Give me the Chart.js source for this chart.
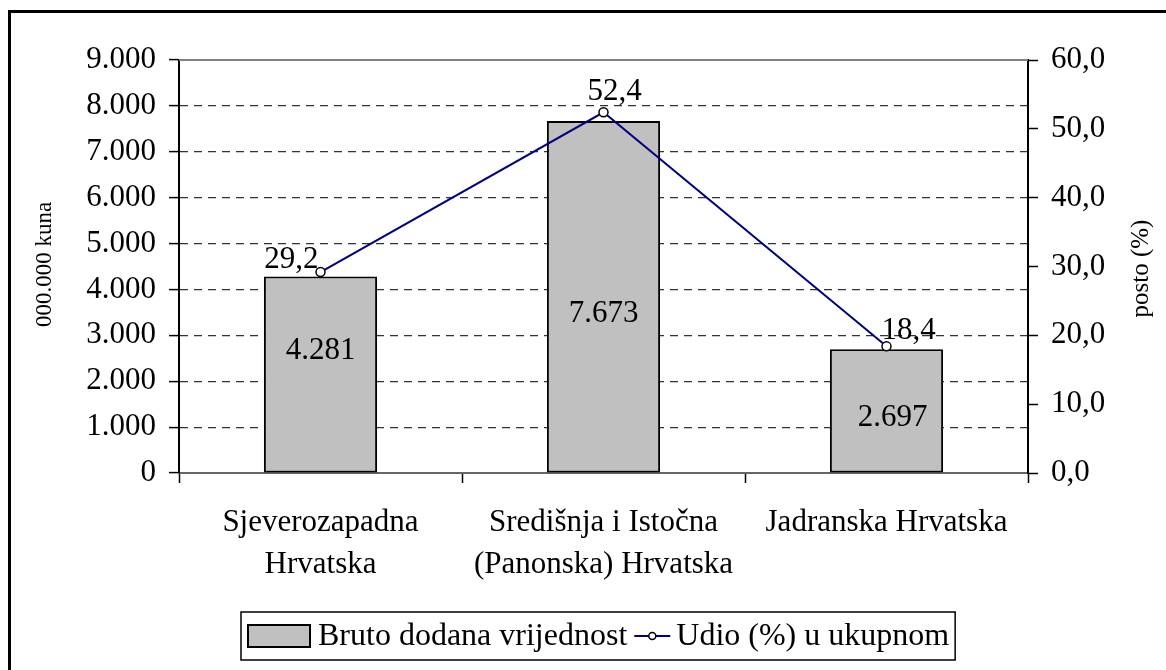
<!DOCTYPE html>
<html>
<head>
<meta charset="utf-8">
<script src="https://cdn.jsdelivr.net/npm/chart.js@4/dist/chart.umd.min.js"></script>
<style>
  html, body { margin: 0; padding: 0; background: #fff; }
  #wrap { width: 1166px; height: 670px; }
</style>
</head>
<body>
<div id="wrap"><canvas id="chartCanvas" width="1166" height="670"></canvas></div>
<script>
// podaci
const categories = [
    ['Sjeverozapadna', 'Hrvatska'],
    ['Središnja i Istočna', '(Panonska) Hrvatska'],
    ['Jadranska Hrvatska']
];
const bdvValues = [4281, 7673, 2697];       // 000.000 kuna
const udioValues = [29.2, 52.4, 18.4];      // posto (%)
const seriesNames = ['Bruto dodana vrijednost', 'Udio (%) u ukupnom'];
const leftAxisTitle = '000.000 kuna';
const rightAxisTitle = 'posto (%)';

// pomak oznaka (samo stil)
const barLabelShift = [[0, -24], [0, 17], [6, 7]];
const lineLabelStyle = [
    { dx: -2, dy: -4, align: 'right' },
    { dx: 11, dy: -12, align: 'center' },
    { dx: -5, dy: -7, align: 'left' }
];

const FONT = "'Liberation Serif', 'Times New Roman', serif";
const BAR_COLOR = '#c0c0c0';
const LINE_COLOR = '#000080';

function fmtThousands(v) {
    return String(Math.round(v)).replace(/\B(?=(\d{3})+(?!\d))/g, '.');
}
function fmtDecimal(v) {
    return v.toFixed(1).replace('.', ',');
}

// oznake, naslovi osi, legenda i okvir
const extrasPlugin = {
    id: 'extras',
    afterDatasetsDraw(chart) {
        const ctx = chart.ctx;
        const area = chart.chartArea;
        ctx.save();
        // gornja linija okvira
        ctx.strokeStyle = '#808080';
        ctx.lineWidth = 2;
        ctx.beginPath();
        ctx.moveTo(area.left, area.top);
        ctx.lineTo(area.right, area.top);
        ctx.stroke();

        ctx.fillStyle = '#000';
        ctx.font = '31px ' + FONT;
        const bars = chart.getDatasetMeta(0).data;
        bars.forEach((el, i) => {
            ctx.textAlign = 'center';
            ctx.textBaseline = 'middle';
            const cy = (el.y + el.base) / 2;
            ctx.fillText(fmtThousands(bdvValues[i]), el.x + barLabelShift[i][0], cy + barLabelShift[i][1]);
        });
        const pts = chart.getDatasetMeta(1).data;
        pts.forEach((el, i) => {
            const s = lineLabelStyle[i];
            ctx.textAlign = s.align;
            ctx.textBaseline = 'alphabetic';
            ctx.fillText(fmtDecimal(udioValues[i]), el.x + s.dx, el.y + s.dy);
        });
        ctx.restore();
    },
    afterDraw(chart) {
        const ctx = chart.ctx;
        const area = chart.chartArea;
        const midY = (area.top + area.bottom) / 2 - 2;
        ctx.save();
        ctx.fillStyle = '#000';
        ctx.textAlign = 'center';
        ctx.textBaseline = 'middle';
        ctx.font = '23px ' + FONT;
        ctx.save();
        ctx.translate(45, midY);
        ctx.rotate(-Math.PI / 2);
        ctx.fillText(leftAxisTitle, 0, 0);
        ctx.restore();
        ctx.font = '25px ' + FONT;
        ctx.save();
        ctx.translate(1141, midY + 4);
        ctx.rotate(-Math.PI / 2);
        ctx.fillText(rightAxisTitle, 0, 0);
        ctx.restore();

        // legenda
        ctx.font = '32px ' + FONT;
        ctx.textAlign = 'left';
        const w1 = ctx.measureText(seriesNames[0]).width;
        const w2 = ctx.measureText(seriesNames[1]).width;
        const boxW = 7 + 62 + 8 + w1 + 7 + 36 + 6 + w2 + 6;
        const bx = Math.round((237 + 960) / 2 - boxW / 2);
        const by = 612, bh = 48;
        ctx.strokeStyle = '#000';
        ctx.lineWidth = 1.5;
        ctx.strokeRect(bx, by, boxW, bh);
        let x = bx + 7;
        const cy = by + bh / 2;
        ctx.fillStyle = BAR_COLOR;
        ctx.fillRect(x, cy - 11, 62, 22);
        ctx.lineWidth = 2;
        ctx.strokeRect(x, cy - 11, 62, 22);
        x += 70;
        ctx.fillStyle = '#000';
        ctx.fillText(seriesNames[0], x, cy + 1);
        x += w1 + 7;
        ctx.strokeStyle = LINE_COLOR;
        ctx.lineWidth = 2;
        ctx.beginPath();
        ctx.moveTo(x, cy);
        ctx.lineTo(x + 36, cy);
        ctx.stroke();
        ctx.fillStyle = '#fff';
        ctx.strokeStyle = '#000';
        ctx.lineWidth = 1.5;
        ctx.beginPath();
        ctx.arc(x + 18, cy, 3.5, 0, Math.PI * 2);
        ctx.fill();
        ctx.stroke();
        x += 42;
        ctx.fillStyle = '#000';
        ctx.fillText(seriesNames[1], x, cy + 1);

        // vanjski okvir
        ctx.strokeStyle = '#000';
        ctx.lineWidth = 3;
        ctx.beginPath();
        ctx.moveTo(9.5, 670);
        ctx.lineTo(9.5, 11.5);
        ctx.lineTo(1166, 11.5);
        ctx.stroke();
        ctx.restore();
    }
};

const ctx = document.getElementById('chartCanvas').getContext('2d');
new Chart(ctx, {
    type: 'bar',
    plugins: [extrasPlugin],
    data: {
        labels: categories,
        datasets: [
            {
                type: 'bar',
                label: seriesNames[0],
                data: bdvValues,
                yAxisID: 'y',
                backgroundColor: BAR_COLOR,
                borderColor: '#000',
                borderWidth: 2,
                borderSkipped: false,
                barPercentage: 0.4,
                categoryPercentage: 1.0,
                order: 2
            },
            {
                type: 'line',
                label: seriesNames[1],
                data: udioValues,
                yAxisID: 'y2',
                borderColor: LINE_COLOR,
                borderWidth: 2,
                tension: 0,
                pointRadius: 4.5,
                pointBackgroundColor: '#fff',
                pointBorderColor: '#000',
                pointBorderWidth: 1.5,
                order: 1
            }
        ]
    },
    options: {
        responsive: false,
        animation: false,
        layout: { padding: { top: 60, left: 0, right: 0, bottom: 0 } },
        plugins: {
            legend: { display: false },
            tooltip: { enabled: false }
        },
        scales: {
            x: {
                offset: true,
                grid: {
                    offset: true,
                    drawOnChartArea: false,
                    tickLength: 10,
                    tickColor: '#000',
                    tickWidth: 1.5
                },
                border: { color: '#666', width: 2 },
                ticks: {
                    color: '#000',
                    font: { family: FONT, size: 31, lineHeight: 1.35 },
                    padding: 19,
                    maxRotation: 0,
                    autoSkip: false
                },
                afterFit(scale) { scale.height = 670 - 473; }
            },
            y: {
                position: 'left',
                min: 0,
                max: 9000,
                grid: {
                    color: (c) => (c.tick && (c.tick.value === 0 || c.tick.value === 9000)) ? 'rgba(0,0,0,0)' : '#333',
                    lineWidth: 1.2,
                    tickLength: 10,
                    tickColor: '#000',
                    tickWidth: 1.5
                },
                border: { color: '#000', width: 2, dash: [8, 6] },
                ticks: {
                    stepSize: 1000,
                    color: '#000',
                    font: { family: FONT, size: 31 },
                    padding: 13,
                    callback: (v) => fmtThousands(v)
                },
                afterFit(scale) { scale.width = 179; }
            },
            y2: {
                position: 'right',
                min: 0,
                max: 60,
                grid: {
                    drawOnChartArea: false,
                    tickLength: 10,
                    tickColor: '#000',
                    tickWidth: 1.5
                },
                border: { color: '#000', width: 2 },
                ticks: {
                    stepSize: 10,
                    color: '#000',
                    font: { family: FONT, size: 31 },
                    padding: 13,
                    callback: (v) => fmtDecimal(v)
                },
                afterFit(scale) { scale.width = 1166 - 1028; }
            }
        }
    }
});
</script>
</body>
</html>
